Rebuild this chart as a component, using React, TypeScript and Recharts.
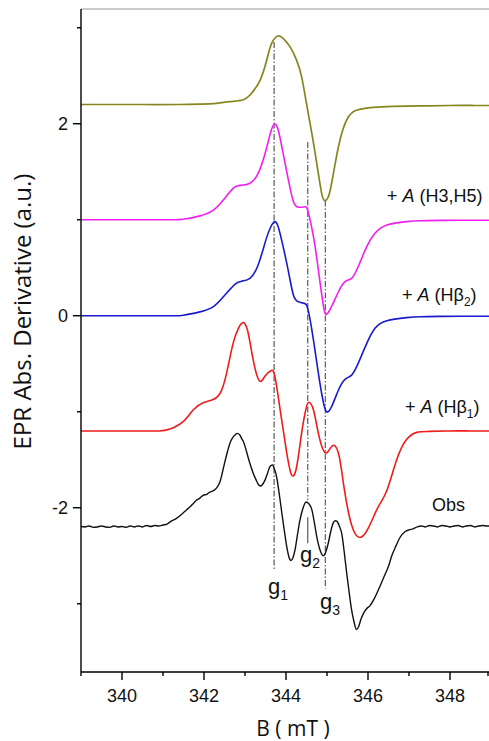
// EPR derivative spectra: stepwise hyperfine simulations stacked over the observed trace
import React from 'react';
import { LineChart, Line, XAxis, YAxis, ReferenceLine, ReferenceDot } from 'recharts';

type Pt = [number, number];

const X_MIN = 339;
const X_MAX = 349;
const Y_MIN = -3.711;
const Y_MAX = 3.195;

const xTicks = [339, 340, 341, 342, 343, 344, 345, 346, 347, 348, 349];
const yTicks = [-3, -2, -1, 0, 1, 2, 3];

// g-value markers: field position, top and bottom of the dash-dot line
const gMarks: [number, number, number][] = [
  [343.71, 2.85, -2.65],
  [344.53, 1.81, -1.92],
  [344.96, 1.2, -2.84],
];
const g2Stub: [number, number, number] = [344.53, -2.1, -2.37];

// isotropic g only
const olive: Pt[] = [
  [339, 2.2], [339.8, 2.2], [340.6, 2.2], [341.4, 2.2], [341.9, 2.204], [342.3, 2.212], [342.63, 2.23],
  [342.96, 2.25], [343.16, 2.317], [343.37, 2.455], [343.53, 2.664], [343.65, 2.837], [343.8, 2.914],
  [343.93, 2.89], [344.1, 2.8], [344.26, 2.66], [344.38, 2.49], [344.5, 2.21], [344.63, 1.9],
  [344.75, 1.587], [344.87, 1.275], [344.95, 1.198], [345.06, 1.275], [345.2, 1.587], [345.36, 1.9],
  [345.52, 2.07], [345.72, 2.14], [346.13, 2.17], [346.6, 2.18], [347.27, 2.185], [348, 2.19],
  [348.6, 2.19], [349, 2.19],
];

// + A (H3,H5)
const magenta: Pt[] = [
  [339, 1.0], [339.8, 1.0], [340.6, 1.0], [341.2, 1.0], [341.5, 1.005], [341.9, 1.04], [342.23, 1.1],
  [342.47, 1.205], [342.71, 1.327], [342.88, 1.358], [343.12, 1.38], [343.32, 1.483], [343.49, 1.69],
  [343.63, 1.917], [343.72, 1.997], [343.81, 1.934], [343.93, 1.69], [344.06, 1.41], [344.18, 1.19],
  [344.3, 1.13], [344.46, 1.135], [344.54, 1.083], [344.67, 0.823], [344.79, 0.476], [344.91, 0.11],
  [344.99, 0.015], [345.11, 0.094], [345.28, 0.25], [345.44, 0.354], [345.6, 0.39], [345.76, 0.51],
  [345.97, 0.72], [346.17, 0.858], [346.46, 0.945], [346.94, 0.98], [347.27, 0.99], [347.8, 0.993],
  [348.4, 0.995], [349, 0.995],
];

// + A (Hβ2)
const blue: Pt[] = [
  [339, 0], [339.8, 0], [340.6, 0], [341.2, 0], [341.5, 0.005], [341.9, 0.04], [342.23, 0.094],
  [342.51, 0.215], [342.76, 0.33], [342.92, 0.36], [343.12, 0.39], [343.32, 0.528], [343.51, 0.79],
  [343.63, 0.927], [343.72, 0.98], [343.81, 0.927], [343.93, 0.72], [344.06, 0.46], [344.18, 0.216],
  [344.3, 0.146], [344.44, 0.129], [344.54, 0.059], [344.67, -0.253], [344.79, -0.6], [344.9, -0.878],
  [344.99, -1.0], [345.11, -0.948], [345.28, -0.774], [345.44, -0.663], [345.6, -0.618],
  [345.76, -0.496], [345.97, -0.288], [346.17, -0.131], [346.46, -0.052], [346.94, -0.02],
  [347.27, -0.01], [347.8, -0.007], [348.4, -0.005], [349, -0.005],
];

// + A (Hβ1)
const red: Pt[] = [
  [339, -1.2], [339.7, -1.2], [340.4, -1.2], [340.9, -1.2], [341.17, -1.18], [341.5, -1.1],
  [341.74, -0.98], [341.98, -0.906], [342.19, -0.878], [342.39, -0.81], [342.55, -0.6],
  [342.71, -0.288], [342.84, -0.131], [342.94, -0.073], [343.06, -0.149], [343.2, -0.46],
  [343.35, -0.677], [343.49, -0.628], [343.63, -0.573], [343.73, -0.635], [343.87, -1.017],
  [344.02, -1.434], [344.14, -1.66], [344.26, -1.573], [344.38, -1.225], [344.49, -0.965],
  [344.56, -0.902], [344.67, -0.982], [344.79, -1.225], [344.93, -1.416], [345.05, -1.4],
  [345.17, -1.35], [345.3, -1.47], [345.42, -1.8], [345.6, -2.18], [345.8, -2.31], [346.01, -2.21],
  [346.25, -1.99], [346.46, -1.82], [346.7, -1.5], [346.94, -1.29], [347.19, -1.215], [347.5, -1.205],
  [348, -1.2], [348.5, -1.2], [349, -1.2],
];

// observed spectrum
const obs: Pt[] = [
  [339.0, -2.195], [339.1, -2.2], [339.2, -2.19], [339.3, -2.205], [339.4, -2.2], [339.5, -2.19],
  [339.6, -2.2], [339.7, -2.205], [339.8, -2.19], [339.9, -2.2], [340.0, -2.195], [340.1, -2.205],
  [340.2, -2.19], [340.3, -2.2], [340.4, -2.19], [340.5, -2.2], [340.6, -2.185], [340.7, -2.195],
  [340.8, -2.185], [340.9, -2.19], [341.0, -2.18], [341.1, -2.17], [341.2, -2.14], [341.33, -2.11],
  [341.45, -2.07], [341.58, -2.02], [341.66, -1.99], [341.75, -1.95], [341.82, -1.92], [341.9, -1.9],
  [341.98, -1.87], [342.07, -1.86], [342.13, -1.84], [342.19, -1.83], [342.27, -1.81], [342.33, -1.78],
  [342.39, -1.73], [342.45, -1.63], [342.51, -1.52], [342.57, -1.42], [342.63, -1.33], [342.7, -1.27],
  [342.76, -1.24], [342.81, -1.225], [342.87, -1.24], [342.92, -1.28], [342.96, -1.31], [343.04, -1.42],
  [343.12, -1.54], [343.2, -1.64], [343.27, -1.71], [343.33, -1.76], [343.38, -1.774], [343.44, -1.75],
  [343.49, -1.71], [343.55, -1.64], [343.61, -1.57], [343.67, -1.555], [343.72, -1.6], [343.77, -1.677],
  [343.84, -1.87], [343.9, -2.06], [343.96, -2.24], [344.02, -2.41], [344.07, -2.51], [344.12, -2.55],
  [344.17, -2.52], [344.22, -2.44], [344.28, -2.28], [344.34, -2.13], [344.41, -2.01], [344.49, -1.94],
  [344.56, -1.96], [344.63, -2.02], [344.69, -2.15], [344.75, -2.3], [344.83, -2.44], [344.91, -2.5],
  [344.97, -2.46], [345.03, -2.37], [345.09, -2.25], [345.15, -2.16], [345.2, -2.135], [345.24, -2.14],
  [345.3, -2.19], [345.36, -2.27], [345.42, -2.46], [345.48, -2.68], [345.54, -2.88], [345.6, -3.065],
  [345.66, -3.19], [345.72, -3.27], [345.77, -3.24], [345.83, -3.16], [345.89, -3.1], [345.97, -3.05],
  [346.05, -3.02], [346.15, -2.95], [346.29, -2.82], [346.41, -2.7], [346.5, -2.61], [346.58, -2.5],
  [346.68, -2.4], [346.78, -2.31], [346.9, -2.25], [347.0, -2.23], [347.1, -2.22], [347.2, -2.2],
  [347.3, -2.19], [347.4, -2.2], [347.5, -2.185], [347.6, -2.19], [347.7, -2.2], [347.8, -2.185],
  [347.9, -2.19], [348.0, -2.2], [348.1, -2.19], [348.2, -2.185], [348.3, -2.2], [348.4, -2.19],
  [348.5, -2.185], [348.6, -2.2], [348.7, -2.19], [348.8, -2.185], [348.9, -2.19], [349.0, -2.19],
];

const toPts = (a: Pt[]) => a.map(([b, v]) => ({ b, v }));

const TICK_FONT = '"Liberation Sans", Arial, sans-serif';
const TITLE_FONT = '"Open Sans", sans-serif';

function XTick(props: any) {
  const { x, y, payload } = props;
  const val = payload.value;
  const major = val % 2 === 0;
  return (
    <g>
      <line x1={x} x2={x} y1={y} y2={y + (major ? 8 : 4)} stroke="#000" strokeWidth={1.4} />
      {major && (
        <text x={x} y={y + 30} textAnchor="middle" fontSize={18} fontFamily={TICK_FONT} fill="#111">
          {val}
        </text>
      )}
    </g>
  );
}

function YTick(props: any) {
  const { x, y, payload } = props;
  const val = payload.value;
  const major = val % 2 === 0;
  return (
    <g>
      <line x1={x} x2={x - (major ? 8 : 4)} y1={y} y2={y} stroke="#000" strokeWidth={1.4} />
      {major && (
        <text x={x - 13} y={y + 6.5} textAnchor="end" fontSize={18} fontFamily={TICK_FONT} fill="#111">
          {val}
        </text>
      )}
    </g>
  );
}

// labels beside each spectrum (position in field / signal units)
const specLabels: { b: number; v: number; sub: string; body: string }[] = [
  { b: 346.46, v: 1.184, sub: '', body: 'H3,H5' },
  { b: 346.83, v: 0.153, sub: '2', body: 'Hβ' },
  { b: 346.9, v: -1.013, sub: '1', body: 'Hβ' },
];
const obsLabel = { b: 347.56, v: -2.03 };
const gLabels: { b: number; v: number; sub: string }[] = [
  { b: 343.56, v: -2.9, sub: '1' },
  { b: 344.34, v: -2.56, sub: '2' },
  { b: 344.83, v: -3.05, sub: '3' },
];

const specContent = (s: { sub: string; body: string }) => (p: any) => {
  const { x, y } = p.viewBox;
  return (
    <text x={x} y={y} fontSize={18} fontFamily={TICK_FONT} fill="#111">
      <tspan>+ </tspan>
      <tspan fontStyle="italic">A</tspan>
      <tspan> ({s.body}</tspan>
      {s.sub && (
        <tspan fontSize={12} dy={5}>
          {s.sub}
        </tspan>
      )}
      <tspan dy={s.sub ? -5 : 0}>)</tspan>
    </text>
  );
};

const gContent = (sub: string) => (p: any) => {
  const { x, y } = p.viewBox;
  return (
    <text x={x} y={y} fontSize={22} fontFamily={TICK_FONT} fill="#111">
      <tspan>g</tspan>
      <tspan fontSize={14} dy={6}>
        {sub}
      </tspan>
    </text>
  );
};

const obsContent = (p: any) => {
  const { x, y } = p.viewBox;
  return (
    <text x={x} y={y} fontSize={18} fontFamily={TICK_FONT} fill="#111">
      Obs
    </text>
  );
};

const yTitle = (p: any) => {
  const { x, y, height } = p.viewBox;
  const cy = y + height / 2 - 29;
  return (
    <text
      x={x + 31}
      y={cy}
      transform={`rotate(-90 ${x + 31} ${cy})`}
      textAnchor="middle"
      fontSize={24}
      fontFamily={TITLE_FONT}
      fill="#111"
    >
      EPR Abs. Derivative (a.u.)
    </text>
  );
};

const xTitle = (p: any) => {
  const { x, y, width } = p.viewBox;
  return (
    <text x={x + width / 2 + 7} y={y + 64} textAnchor="middle" fontSize={21} fontFamily={TITLE_FONT} fill="#111">
      B ( mT )
    </text>
  );
};

const dashDot = '6 2 1.5 2';

export default function App() {
  return (
    <div style={{ position: 'absolute', left: 0, top: 0, width: 489, height: 741, overflow: 'hidden', background: '#fff' }}>
      <LineChart width={500} height={741} margin={{ top: 9, right: 9, bottom: 0, left: 0 }}>
        <XAxis
          type="number"
          dataKey="b"
          domain={[X_MIN, X_MAX]}
          ticks={xTicks}
          allowDataOverflow
          height={69}
          tickSize={0}
          tickMargin={0}
          tickLine={false}
          tick={XTick}
          axisLine={{ stroke: '#000', strokeWidth: 1.4 }}
          label={{ content: xTitle }}
        />
        <YAxis
          type="number"
          domain={[Y_MIN, Y_MAX]}
          ticks={yTicks}
          allowDataOverflow
          width={81}
          tickSize={0}
          tickMargin={0}
          tickLine={false}
          tick={YTick}
          axisLine={{ stroke: '#000', strokeWidth: 1.4 }}
          label={{ content: yTitle }}
        />
        <ReferenceLine y={Y_MAX} stroke="#999" strokeWidth={1} />

        {gMarks.map(([b, top, bottom], i) => (
          <ReferenceLine
            key={`g${i}`}
            segment={[{ x: b, y: top }, { x: b, y: bottom }]}
            stroke="#666"
            strokeWidth={1.3}
            strokeDasharray={dashDot}
          />
        ))}
        <ReferenceLine
          segment={[{ x: g2Stub[0], y: g2Stub[1] }, { x: g2Stub[0], y: g2Stub[2] }]}
          stroke="#666"
          strokeWidth={1.3}
        />

        <Line data={toPts(olive)} dataKey="v" type="natural" stroke="#86861f" strokeWidth={1.7} dot={false} isAnimationActive={false} />
        <Line data={toPts(magenta)} dataKey="v" type="natural" stroke="#f020f0" strokeWidth={1.6} dot={false} isAnimationActive={false} />
        <Line data={toPts(blue)} dataKey="v" type="natural" stroke="#1a1acc" strokeWidth={1.6} dot={false} isAnimationActive={false} />
        <Line data={toPts(red)} dataKey="v" type="natural" stroke="#ee1c1c" strokeWidth={1.6} dot={false} isAnimationActive={false} />
        <Line data={toPts(obs)} dataKey="v" type="monotone" stroke="#111" strokeWidth={1.4} dot={false} isAnimationActive={false} />

        {specLabels.map((s, i) => (
          <ReferenceDot key={`s${i}`} x={s.b} y={s.v} r={0} fill="none" stroke="none" label={{ content: specContent(s) }} />
        ))}
        <ReferenceDot x={obsLabel.b} y={obsLabel.v} r={0} fill="none" stroke="none" label={{ content: obsContent }} />
        {gLabels.map((g, i) => (
          <ReferenceDot key={`gl${i}`} x={g.b} y={g.v} r={0} fill="none" stroke="none" label={{ content: gContent(g.sub) }} />
        ))}
      </LineChart>
    </div>
  );
}
